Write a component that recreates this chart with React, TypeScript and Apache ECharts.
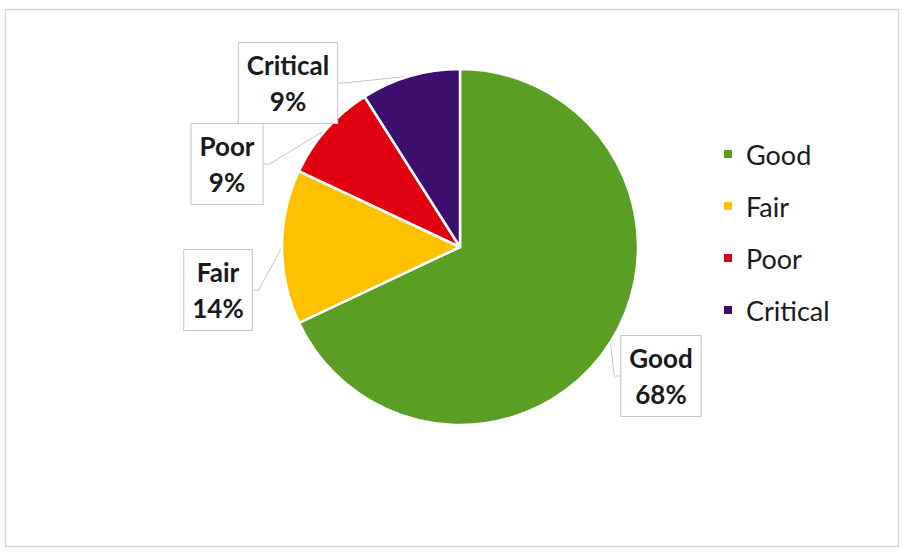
import React, { useEffect, useRef } from "react";
import * as echarts from "echarts";

const categories = ["Good", "Fair", "Poor", "Critical"];
const values = [68, 14, 9, 9];
const colors = ["#5A9E23", "#FFC000", "#E00010", "#3C0F6E"];

// label box centres (layout only)
const labelCentres: [number, number][] = [
  [661, 376],
  [218, 290],
  [227, 164],
  [288, 83],
];

export default function App() {
  const ref = useRef<HTMLDivElement>(null);
  useEffect(() => {
    document.body.style.margin = "0";
    const chart = echarts.init(ref.current!, undefined, { renderer: "svg" });
    const data = categories.map((name, i) => ({
      name,
      value: values[i],
      itemStyle: { color: colors[i] },
    }));
    chart.setOption({
      animation: false,
      backgroundColor: "#ffffff",
      graphic: [
        {
          type: "rect",
          shape: { x: 5.5, y: 9.5, width: 893, height: 537 },
          style: { fill: "none", stroke: "#d6d6d6", lineWidth: 1.5 },
          silent: true,
          z: -1,
        },
      ],
      legend: {
        orient: "vertical",
        left: 717,
        top: 134,
        itemGap: 22,
        itemWidth: 26,
        itemHeight: 10,
        icon: "path://M0,0H10V10H0Z",
        textStyle: {
          fontFamily: "Lato",
          fontSize: 27,
          lineHeight: 30,
          color: "#1a1a1a",
        },
        data: categories,
      },
      series: [
        {
          type: "pie",
          center: [460, 247],
          radius: 178,
          startAngle: 90,
          clockwise: true,
          itemStyle: { borderColor: "#ffffff", borderWidth: 2.5 },
          label: {
            show: true,
            position: "outside",
            formatter: "{b}\n{d}%",
            fontFamily: "Lato",
            fontWeight: "bold",
            fontSize: 26,
            lineHeight: 36,
            color: "#1a1a1a",
            align: "center",
            backgroundColor: "#ffffff",
            borderColor: "#c4c4c4",
            borderWidth: 1,
            padding: [4, 8],
          },
          labelLine: {
            show: true,
            length: 10,
            length2: 6,
            lineStyle: { color: "#c4c4c4", width: 1 },
          },
          labelLayout: (params: any) => {
            const p = labelCentres[params.dataIndex];
            return { x: p[0], y: p[1], align: "center", verticalAlign: "middle" };
          },
          data,
        },
      ],
    });
    return () => chart.dispose();
  }, []);
  return (
    <div
      ref={ref}
      style={{ position: "fixed", left: 0, top: 0, width: 902, height: 552 }}
    />
  );
}
